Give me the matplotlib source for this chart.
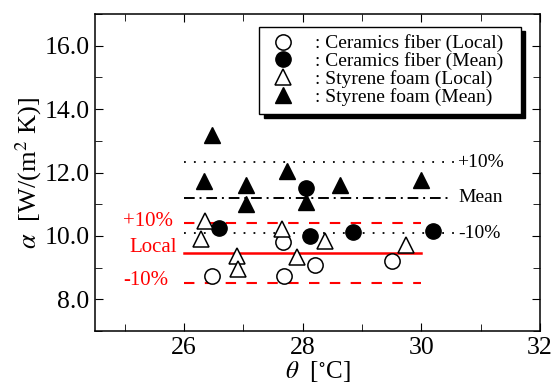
import matplotlib
matplotlib.use("Agg")
from matplotlib import pyplot as plt
from matplotlib.ticker import MultipleLocator

plt.rcParams['font.family'] = ['Liberation Serif', 'DejaVu Serif']
plt.rcParams['mathtext.fontset'] = 'stix'

# data
cer_local_x = [26.47, 27.67, 27.69, 28.20, 29.50]
cer_local_y = [8.74, 9.81, 8.74, 9.08, 9.20]
cer_mean_x = [26.59, 28.06, 28.13, 28.85, 30.20]
cer_mean_y = [10.25, 11.52, 10.00, 10.13, 10.16]
sty_local_x = [26.35, 26.28, 26.90, 26.91, 27.66, 27.90, 28.37, 29.74]
sty_local_y = [10.48, 9.90, 9.37, 8.97, 10.21, 9.32, 9.83, 9.70]
sty_mean_x = [26.48, 26.33, 27.04, 27.05, 27.73, 28.06, 28.63, 29.99]
sty_mean_y = [13.18, 11.74, 11.60, 11.02, 12.06, 11.08, 11.60, 11.75]

mean_level = 11.2
local_level = 9.45

fig = plt.figure(figsize=(5.56, 3.86), dpi=100)
ax = fig.add_axes([0.1709, 0.1425, 0.8003, 0.8212])

# reference lines
ax.plot([26, 30.55], [mean_level * 1.1] * 2, c='k', lw=1.3, ls=(0, (1, 4.5)))
ax.plot([26, 30.45], [mean_level] * 2, c='k', lw=1.4, ls=(0, (5.5, 2.5, 1, 2.5)))
ax.plot([26, 30.55], [mean_level * 0.9] * 2, c='k', lw=1.3, ls=(0, (1, 4.5)))
ax.plot([26, 30], [local_level] * 2, c='red', lw=1.8)
ax.plot([26, 30], [local_level * 1.1] * 2, c='red', lw=1.5, ls=(0, (5, 5)))
ax.plot([26, 30], [local_level * 0.9] * 2, c='red', lw=1.5, ls=(0, (5, 5)))

ax.text(30.6, mean_level * 1.1, '+10%', fontsize=14, va='center')
ax.text(30.63, mean_level, 'Mean', fontsize=14, va='center')
ax.text(30.63, mean_level * 0.9, '-10%', fontsize=14, va='center')
ax.text(24.97, 10.45, '+10%', fontsize=15, va='center', color='red')
ax.text(25.08, 9.62, 'Local', fontsize=15, va='center', color='red')
ax.text(24.97, 8.6, '-10%', fontsize=15, va='center', color='red')

# points
ms = 11
ax.plot(cer_local_x, cer_local_y, 'o', ms=ms, mfc='white', mec='k', mew=1.1,
        label=': Ceramics fiber (Local)  ')
ax.plot(cer_mean_x, cer_mean_y, 'o', ms=ms, mfc='k', mec='k',
        label=': Ceramics fiber (Mean)')
ax.plot(sty_local_x, sty_local_y, '^', ms=ms, mfc='white', mec='k', mew=1.1,
        label=': Styrene foam (Local)')
ax.plot(sty_mean_x, sty_mean_y, '^', ms=ms, mfc='k', mec='k',
        label=': Styrene foam (Mean)')

ax.set_xlim(24.5, 32)
ax.set_ylim(7, 17)
ax.xaxis.set_minor_locator(MultipleLocator(1))
ax.yaxis.set_minor_locator(MultipleLocator(1))
ax.set_xticks([26, 28, 30, 32])
ax.set_yticks([8, 10, 12, 14, 16])
ax.set_yticklabels(['8.0', '10.0', '12.0', '14.0', '16.0'])
ax.tick_params(axis='both', which='both', direction='in', top=True, right=True)
ax.tick_params(axis='both', which='major', labelsize=18.5, length=6, pad=4)
ax.tick_params(axis='both', which='minor', length=5)
for s in ax.spines.values():
    s.set_linewidth(1.1)

ax.set_xlabel(r'$\theta$  [$^{\circ}$C]', fontsize=18, labelpad=0)
ax.set_ylabel(r'$\alpha$  [W/(m$^2$ K)]', fontsize=19, labelpad=0)

leg = ax.legend(loc='upper right', bbox_to_anchor=(0.9565, 0.96),
                fontsize=14, fancybox=False, edgecolor='k', framealpha=1,
                shadow={'color': 'k', 'alpha': 1, 'ox': 3, 'oy': -3},
                handlelength=1.65, handletextpad=0.8, labelspacing=0.0,
                borderpad=0.4, borderaxespad=0, numpoints=1)
leg.get_frame().set_linewidth(1.0)

fig.savefig('out.png', dpi=100)
